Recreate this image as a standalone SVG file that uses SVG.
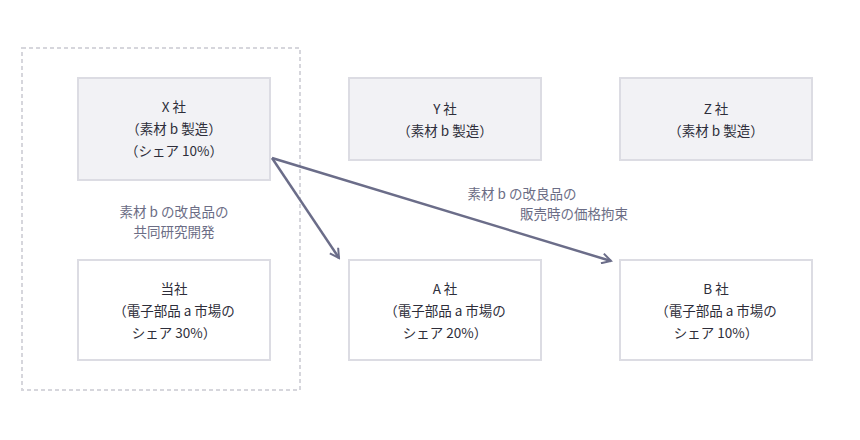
<svg xmlns="http://www.w3.org/2000/svg" width="860" height="440" viewBox="0 0 860 440">
<style>
.box{fill:#f2f2f5;stroke:#dcdce3;stroke-width:2}
.wbox{fill:#fff;stroke:#dcdce3;stroke-width:2}
text{font-family:"Noto Sans CJK JP","Noto Sans",sans-serif;font-size:13.5px;fill:#2e2e3a;text-anchor:middle}
.lbl{fill:#6b6d85}
.conn{stroke:#6b6d89;stroke-width:2.5;fill:none;marker-end:url(#ah)}
</style>
<defs><marker id="ah" viewBox="0 0 12 12" refX="10" refY="6" markerWidth="12" markerHeight="12" markerUnits="userSpaceOnUse" orient="auto"><path d="M1,1 L10,6 L1,11" fill="none" stroke="#6b6d89" stroke-width="2"/></marker></defs>
<rect width="860" height="440" fill="#fff"/>
<rect x="22" y="48" width="278" height="342" fill="none" stroke="#d6d6dc" stroke-width="2" stroke-dasharray="4,3"/>
<g id="X"><rect class="box" x="78" y="78" width="192" height="102"/><text x="174" y="112">X 社</text><text x="174" y="134">（素材 b 製造）</text><text x="174" y="156">（シェア 10%）</text></g>
<g id="Y"><rect class="box" x="349" y="78" width="192" height="82"/><text x="445" y="114">Y 社</text><text x="445" y="136">（素材 b 製造）</text></g>
<g id="Z"><rect class="box" x="620" y="78" width="192" height="82"/><text x="716" y="114">Z 社</text><text x="716" y="136">（素材 b 製造）</text></g>
<g id="T"><rect class="wbox" x="78" y="260" width="192" height="100"/><text x="174" y="294">当社</text><text x="174" y="316">（電子部品 a 市場の</text><text x="174" y="338">シェア 30%）</text></g>
<g id="A"><rect class="wbox" x="349" y="260" width="192" height="100"/><text x="445" y="294">A 社</text><text x="445" y="316">（電子部品 a 市場の</text><text x="445" y="338">シェア 20%）</text></g>
<g id="B"><rect class="wbox" x="620" y="260" width="192" height="100"/><text x="716" y="294">B 社</text><text x="716" y="316">（電子部品 a 市場の</text><text x="716" y="338">シェア 10%）</text></g>
<g id="labels"><text class="lbl" x="174" y="217">素材 b の改良品の</text><text class="lbl" x="174" y="237">共同研究開発</text><text class="lbl" x="522" y="199">素材 b の改良品の</text><text class="lbl" x="574" y="219">販売時の価格拘束</text></g>
<g id="connectors"><line class="conn" x1="272" y1="158" x2="339" y2="258"/><line class="conn" x1="272" y1="158" x2="611" y2="261"/></g>
</svg>
